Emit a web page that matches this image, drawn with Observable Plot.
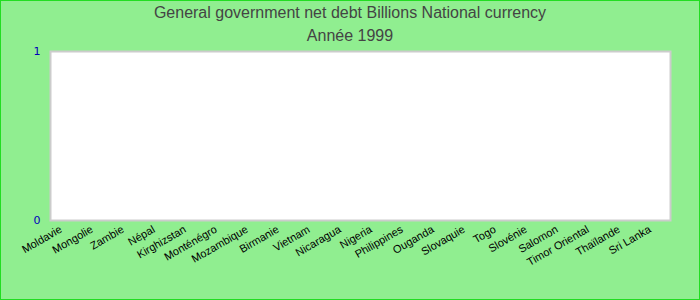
<!DOCTYPE html>
<html>
<head>
<meta charset="utf-8">
<script src="https://cdn.jsdelivr.net/npm/d3@7"></script>
<script src="https://cdn.jsdelivr.net/npm/@observablehq/plot@0.6"></script>
<style>
  body { margin: 0; }
  #wrap { position: relative; width: 700px; height: 300px; box-sizing: border-box; border: 1px solid #22dd22; background: #90ee90; font-family: "Liberation Sans", Arial, sans-serif; overflow: hidden; }
  .t { position: absolute; left: 0; width: 698px; text-align: center; color: #444; font-size: 16px; line-height: 23px; }
  #title { top: 0; }
  #subtitle { top: 23px; }
  #chart { position: absolute; left: 0; top: 0; }
  svg { display: block; }
</style>
</head>
<body>
<div id="wrap">
  <div id="chart"></div>
  <div class="t" id="title"></div>
  <div class="t" id="subtitle"></div>
</div>
<script>
const title = "General government net debt Billions National currency";
const subtitle = "Année 1999";
const countries = ["Moldavie","Mongolie","Zambie","Népal","Kirghizstan","Monténégro","Mozambique","Birmanie","Vietnam","Nicaragua","Nigeria","Philippines","Ouganda","Slovaquie","Togo","Slovénie","Salomon","Timor Oriental","Thaïlande","Sri Lanka"];
const values = [0,0,0,0,0,0,0,0,0,0,0,0,0,0,0,0,0,0,0,0];
const yTicks = [0, 1];

document.getElementById("title").textContent = title;
document.getElementById("subtitle").textContent = subtitle;

const data = countries.map((c, i) => ({country: c, value: values[i]}));

const chart = Plot.plot({
  width: 698,
  height: 298,
  marginTop: 50,
  marginLeft: 49,
  marginRight: 29,
  marginBottom: 79,
  style: {background: "transparent", fontFamily: "Liberation Sans, Arial, sans-serif"},
  x: {domain: countries, padding: 0},
  y: {domain: [0, 1]},
  marks: [
    Plot.frame({fill: "white", stroke: "#cccccc", strokeWidth: 2}),
    Plot.barY(data, {x: "country", y: "value", fill: "#4472c4", inset: 6}),
    Plot.axisY({ticks: yTicks, tickSize: 0, tickPadding: 10, fill: "#0000bb", fontSize: 11, fontFamily: "DejaVu Sans", tickFormat: d3.format("d"), label: null}),
    Plot.axisX({tickSize: 0, tickRotate: -30, tickPadding: 8, dx: -5, fontSize: 11, fill: "black", label: null})
  ]
});
document.getElementById("chart").appendChild(chart);
</script>
</body>
</html>
